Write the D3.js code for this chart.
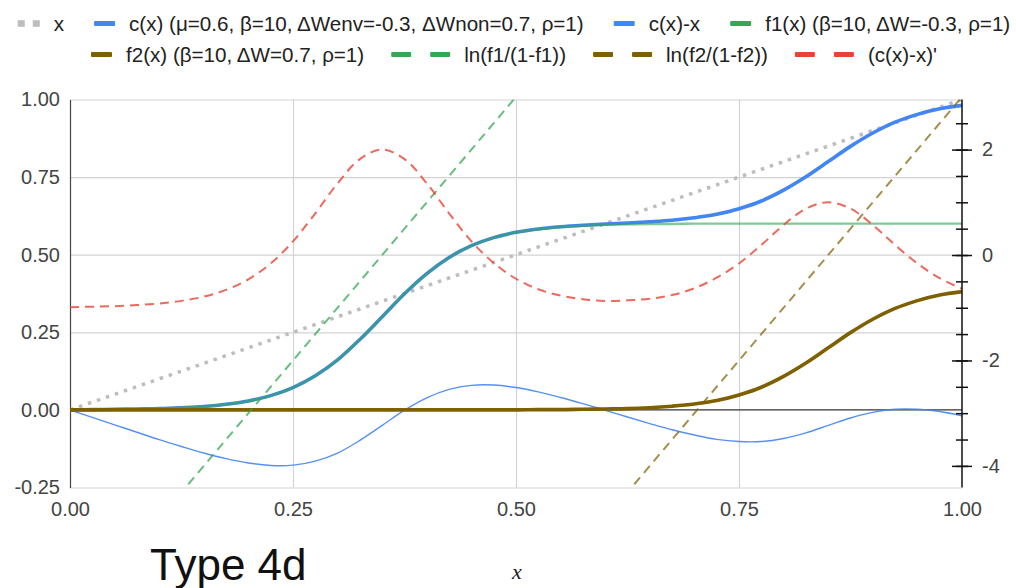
<!DOCTYPE html>
<html>
<head>
<meta charset="utf-8">
<script src="https://cdn.jsdelivr.net/npm/d3@7"></script>
<style>
  body { margin: 0; background: #fff; }
  svg { display: block; font-family: "Liberation Sans", Arial, sans-serif; }
</style>
</head>
<body>
<svg id="chart" width="1016" height="588"></svg>
<script>
// ---- data -------------------------------------------------------------
const xGrid = [0.000, 0.025, 0.050, 0.075, 0.100, 0.125, 0.150, 0.175, 0.200, 0.225,
               0.250, 0.275, 0.300, 0.325, 0.350, 0.375, 0.400, 0.425, 0.450, 0.475,
               0.500, 0.525, 0.550, 0.575, 0.600, 0.625, 0.650, 0.675, 0.700, 0.725,
               0.750, 0.775, 0.800, 0.825, 0.850, 0.875, 0.900, 0.925, 0.950, 0.975, 1.000];

// c(x)  (μ=0.6, β=10, ΔWenv=-0.3, ΔWnon=0.7, ρ=1)
const cValues = [0.000, 0.001, 0.002, 0.003, 0.004, 0.007, 0.011, 0.018, 0.029, 0.046,
                 0.072, 0.110, 0.161, 0.227, 0.300, 0.374, 0.439, 0.491, 0.529, 0.555,
                 0.572, 0.583, 0.590, 0.595, 0.599, 0.602, 0.606, 0.611, 0.619, 0.630,
                 0.648, 0.673, 0.708, 0.751, 0.800, 0.849, 0.892, 0.927, 0.952, 0.970, 0.981];

// c(x) - x
const cMinusX = [0.000, -0.024, -0.048, -0.072, -0.096, -0.118, -0.139, -0.157, -0.171, -0.179,
                 -0.178, -0.165, -0.139, -0.098, -0.050, -0.001, 0.039, 0.066, 0.079, 0.080,
                 0.072, 0.058, 0.040, 0.020, -0.001, -0.023, -0.044, -0.064, -0.081, -0.095,
                 -0.102, -0.102, -0.092, -0.074, -0.050, -0.026, -0.008, 0.002, 0.002, -0.005, -0.019];

// f1(x)  (β=10, ΔW=-0.3, ρ=1)
const f1Values = [0.000, 0.001, 0.002, 0.002, 0.004, 0.007, 0.011, 0.018, 0.028, 0.046,
                  0.072, 0.109, 0.161, 0.227, 0.300, 0.374, 0.439, 0.491, 0.529, 0.555,
                  0.572, 0.582, 0.589, 0.593, 0.596, 0.598, 0.599, 0.599, 0.600, 0.600,
                  0.600, 0.600, 0.600, 0.600, 0.600, 0.600, 0.600, 0.600, 0.600, 0.600, 0.600];

// f2(x)  (β=10, ΔW=0.7, ρ=1)
const f2Values = [0.000, 0.000, 0.000, 0.000, 0.000, 0.000, 0.000, 0.000, 0.000, 0.000,
                  0.000, 0.000, 0.000, 0.000, 0.000, 0.000, 0.000, 0.000, 0.000, 0.000,
                  0.000, 0.001, 0.001, 0.002, 0.003, 0.004, 0.007, 0.012, 0.019, 0.030,
                  0.048, 0.073, 0.108, 0.151, 0.200, 0.249, 0.292, 0.327, 0.352, 0.370, 0.381];

// (c(x)-x)'  (right axis)
const slopeValues = [-0.99, -0.98, -0.97, -0.95, -0.92, -0.87, -0.79, -0.66, -0.46, -0.16,
                     0.26, 0.79, 1.36, 1.82, 2.00, 1.82, 1.36, 0.79, 0.26, -0.15,
                     -0.45, -0.65, -0.77, -0.84, -0.87, -0.86, -0.83, -0.76, -0.63, -0.43,
                     -0.16, 0.19, 0.57, 0.88, 1.00, 0.88, 0.57, 0.19, -0.16, -0.44, -0.64];

// y = x reference line
const identityX = [0, 1];
const identityY = [0, 1];

// logits (right axis), straight lines
const lnF1X = [0.10, 0.55];
const lnF1Y = [-5.0, 4.0];
const lnF2X = [0.60, 1.00];
const lnF2Y = [-5.0, 3.0];

// axis ticks
const xTicks = [0, 0.25, 0.5, 0.75, 1];
const leftTicks = [-0.25, 0, 0.25, 0.5, 0.75, 1];
const rightTicks = [-4, -2, 0, 2];
const rightMinorTicks = [-4, -3.5, -3, -2.5, -2, -1.5, -1, -0.5, 0, 0.5, 1, 1.5, 2, 2.5];

// legend rows
const legendRow1 = ["x", "c(x) (μ=0.6, β=10, ΔWenv=-0.3, ΔWnon=0.7, ρ=1)", "c(x)-x", "f1(x) (β=10, ΔW=-0.3, ρ=1)"];
const legendRow2 = ["f2(x) (β=10, ΔW=0.7, ρ=1)", "ln(f1/(1-f1))", "ln(f2/(1-f2))", "(c(x)-x)'"];

const chartTitle = "Type 4d";
const axisTitle = "x";

// ---- layout & scales -------------------------------------------------
const svg = d3.select("#chart");
const plot = { left: 70, right: 962, top: 99.5, bottom: 487.5 };
const plotW = plot.right - plot.left;
const plotH = plot.bottom - plot.top;

const x = d3.scaleLinear().domain([0, 1]).range([plot.left, plot.right]);
const yL = d3.scaleLinear().domain([-0.25, 1]).range([plot.bottom, plot.top]);
const yR = d3.scaleLinear().domain([-4.41, 2.95]).range([plot.bottom, plot.top]);

const BLUE = "#4285F4", GREEN = "#34A853", BROWN = "#7f6000", RED = "#EA4335", GREY = "#bdbdbd";

// plain hyphen-minus for negative tick labels
const fmt2 = d => d.toFixed(2);
const fmt0 = d => String(d);

// ---- grid -------------------------------------------------------------
const gridY = svg.append("g")
  .attr("transform", `translate(${plot.left},0)`)
  .call(d3.axisLeft(yL).tickValues(leftTicks.filter(d => d !== 0)).tickSize(-plotW).tickFormat(""));
gridY.select(".domain").remove();
gridY.selectAll("line").attr("stroke", "#d3d3d3").attr("stroke-width", 1.2);

const gridX = svg.append("g")
  .attr("transform", `translate(0,${plot.bottom})`)
  .call(d3.axisBottom(x).tickValues([0.25, 0.5, 0.75]).tickSize(-plotH).tickFormat(""));
gridX.select(".domain").remove();
gridX.selectAll("line").attr("stroke", "#d3d3d3").attr("stroke-width", 1.2);

// baseline at 0
svg.append("line")
  .attr("x1", plot.left).attr("x2", plot.right)
  .attr("y1", yL(0)).attr("y2", yL(0))
  .attr("stroke", "#333").attr("stroke-width", 1.2);

// left axis labels
const leftAxis = svg.append("g")
  .attr("transform", `translate(${plot.left},0)`)
  .call(d3.axisLeft(yL).tickValues(leftTicks).tickSize(0).tickPadding(10).tickFormat(fmt2));
leftAxis.select(".domain").attr("stroke", "#444").attr("stroke-width", 1.2);
leftAxis.selectAll("text").attr("font-size", 20).attr("fill", "#444")
  .attr("font-family", "'Liberation Sans', Arial, sans-serif");

// bottom axis labels
const bottomAxis = svg.append("g")
  .attr("transform", `translate(0,${plot.bottom})`)
  .call(d3.axisBottom(x).tickValues(xTicks).tickSize(0).tickPadding(14).tickFormat(fmt2));
bottomAxis.select(".domain").remove();
bottomAxis.selectAll("text").attr("font-size", 20).attr("fill", "#444")
  .attr("font-family", "'Liberation Sans', Arial, sans-serif");

// ---- series -----------------------------------------------------------
svg.append("defs").append("clipPath").attr("id", "plot-clip")
  .append("rect").attr("x", plot.left).attr("y", plot.top).attr("width", plotW).attr("height", plotH);
const series = svg.append("g").attr("clip-path", "url(#plot-clip)");

function drawLine(xv, yv, yScale, style, curve) {
  const pts = xv.map((d, i) => [d, yv[i]]);
  const gen = d3.line().x(d => x(d[0])).y(d => yScale(d[1])).curve(curve || d3.curveLinear);
  const p = series.append("path").datum(pts).attr("d", gen).attr("fill", "none");
  Object.entries(style).forEach(([k, v]) => p.attr(k, v));
  return p;
}

drawLine(identityX, identityY, yL, { stroke: GREY, "stroke-width": 3.5, "stroke-dasharray": "3.5,6" });
drawLine(xGrid, cValues, yL, { stroke: BLUE, "stroke-width": 3.6 }, d3.curveMonotoneX);
drawLine(xGrid, cMinusX, yL, { stroke: BLUE, "stroke-width": 1.4, "stroke-opacity": 0.9 }, d3.curveCatmullRom);
drawLine(xGrid, f1Values, yL, { stroke: GREEN, "stroke-width": 2.4, "stroke-opacity": 0.62 }, d3.curveMonotoneX);
drawLine(xGrid, f2Values, yL, { stroke: BROWN, "stroke-width": 3.6 }, d3.curveMonotoneX);
drawLine(lnF1X, lnF1Y, yR, { stroke: GREEN, "stroke-width": 2, "stroke-opacity": 0.75, "stroke-dasharray": "9,6" });
drawLine(lnF2X, lnF2Y, yR, { stroke: BROWN, "stroke-width": 2, "stroke-opacity": 0.7, "stroke-dasharray": "9,6" });
drawLine(xGrid, slopeValues, yR, { stroke: RED, "stroke-width": 2, "stroke-opacity": 0.8, "stroke-dasharray": "9,6" }, d3.curveCatmullRom);

// ---- right axis -------------------------------------------------------
const rightMinor = svg.append("g").attr("transform", `translate(${plot.right},0)`);
rightMinor.call(d3.axisRight(yR).tickValues(rightMinorTicks).tickSize(6).tickFormat(""));
rightMinor.select(".domain").remove();
const rightMinorL = svg.append("g").attr("transform", `translate(${plot.right},0)`);
rightMinorL.call(d3.axisLeft(yR).tickValues(rightMinorTicks).tickSize(6).tickFormat(""));
rightMinorL.select(".domain").remove();
const rightMajorL = svg.append("g").attr("transform", `translate(${plot.right},0)`);
rightMajorL.call(d3.axisLeft(yR).tickValues(rightTicks).tickSize(10).tickFormat(""));
rightMajorL.select(".domain").remove();
const rightAxis = svg.append("g").attr("transform", `translate(${plot.right},0)`)
  .call(d3.axisRight(yR).tickValues(rightTicks).tickSize(10).tickPadding(10).tickFormat(fmt0));
[rightMinor, rightMinorL, rightMajorL, rightAxis].forEach(g => g.selectAll("line").attr("stroke", "#111").attr("stroke-width", 1.5));
rightAxis.select(".domain").attr("stroke", "#111").attr("stroke-width", 1.5)
  .attr("d", `M0,${plot.top}V${plot.bottom}`);
rightAxis.selectAll("text").attr("font-size", 20).attr("fill", "#444")
  .attr("font-family", "'Liberation Sans', Arial, sans-serif");

// ---- legend -----------------------------------------------------------
const legendKinds1 = [
  { kind: "dot", color: GREY }, { kind: "solid", color: BLUE },
  { kind: "solid", color: BLUE }, { kind: "solid", color: GREEN }];
const legendKinds2 = [
  { kind: "solid", color: BROWN }, { kind: "dash", color: GREEN },
  { kind: "dash", color: BROWN }, { kind: "dash", color: RED }];

function drawLegendRow(labels, kinds, cy, centerX, gapItem) {
  const g = svg.append("g");
  const swW = { dot: 22, solid: 21, dash: 59 };
  const items = labels.map((lab, i) => {
    const t = g.append("text").text(lab).attr("font-size", 20.6).attr("fill", "#222")
      .attr("dy", "0.35em").attr("y", cy);
    const tw = t.node().getComputedTextLength();
    return { t, tw, kind: kinds[i].kind, color: kinds[i].color };
  });
  const gapText = 14;
  const total = d3.sum(items, d => swW[d.kind] + gapText + d.tw) + gapItem * (items.length - 1);
  let cx = centerX - total / 2;
  items.forEach(it => {
    if (it.kind === "dot") {
      [0, 15].forEach(o => g.append("rect").attr("x", cx + o).attr("y", cy - 3.3)
        .attr("width", 7).attr("height", 6.6).attr("fill", it.color));
    } else if (it.kind === "solid") {
      g.append("rect").attr("x", cx).attr("y", cy - 2.5).attr("width", 21).attr("height", 5)
        .attr("rx", 1).attr("fill", it.color);
    } else {
      [0, 39].forEach(o => g.append("rect").attr("x", cx + o).attr("y", cy - 2.5)
        .attr("width", 20).attr("height", 5).attr("rx", 1).attr("fill", it.color));
    }
    cx += swW[it.kind] + gapText;
    it.t.attr("x", cx);
    cx += it.tw + gapItem;
  });
}
drawLegendRow(legendRow1, legendKinds1, 23.5, 514, 30);
drawLegendRow(legendRow2, legendKinds2, 54.5, 514, 27);

// ---- titles -------------------------------------------------------------
svg.append("text").text(chartTitle).attr("x", 150).attr("y", 580)
  .attr("font-size", 44).attr("fill", "#111");
svg.append("text").text(axisTitle).attr("x", 517).attr("y", 579)
  .attr("text-anchor", "middle").attr("font-size", 22).attr("font-style", "italic")
  .attr("font-family", "'Liberation Serif', 'Times New Roman', serif").attr("fill", "#222");
</script>
</body>
</html>
